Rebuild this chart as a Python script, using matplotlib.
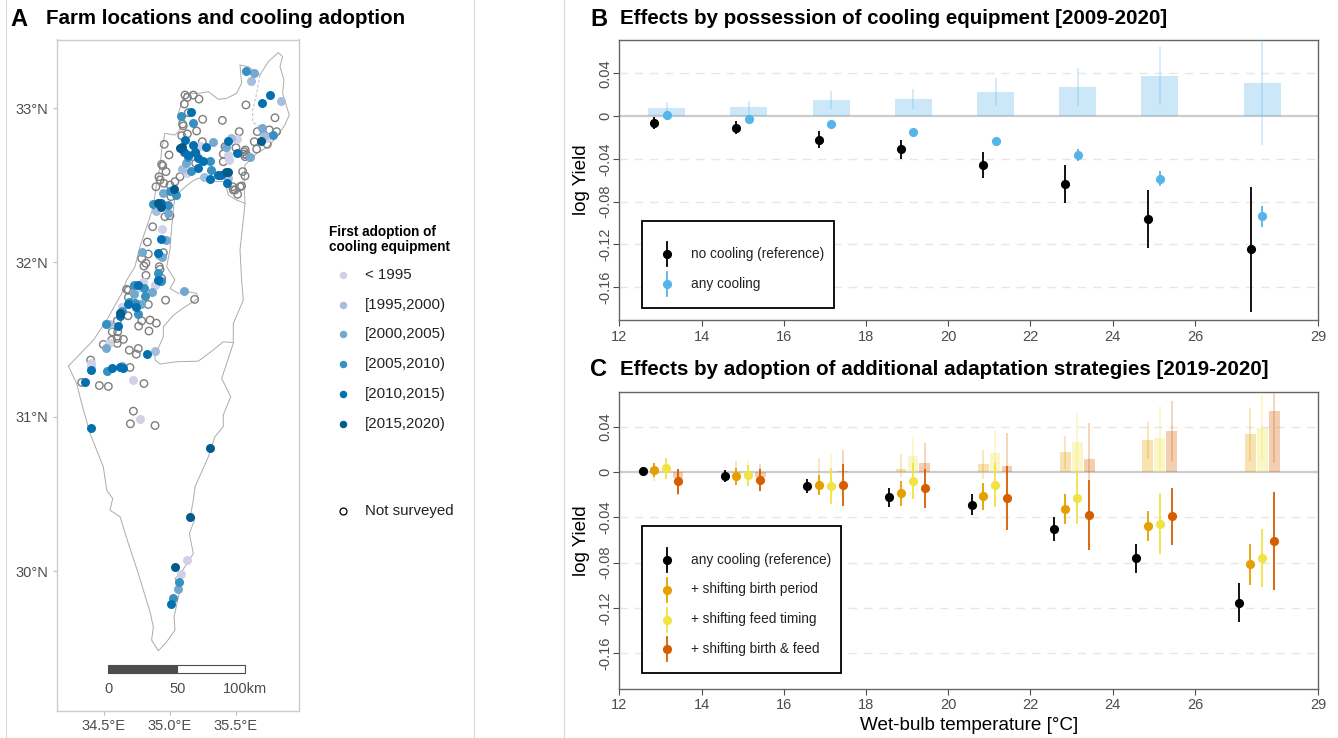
import numpy as np
import matplotlib
matplotlib.use('Agg')
import matplotlib.pyplot as plt
from matplotlib.lines import Line2D
from matplotlib.patches import Rectangle

plt.rcParams['font.family'] = ['Liberation Sans', 'DejaVu Sans']

W, H = 1338, 738

# map outline, lon/lat
outline_lon = [35.116,35.217,35.293,35.369,35.432,35.507,35.545,35.533,35.596,35.684,35.747,35.823,35.856,35.836,35.866,35.856,35.906,35.873,35.810,35.747,35.659,35.608,35.571,35.563,35.571,35.533,35.545,35.558,35.482,35.482,35.394,35.462,35.406,35.406,35.343,35.293,35.192,35.179,35.156,35.192,35.149,35.179,35.091,35.040,35.078,35.033,35.040,34.977,34.914,34.863,34.876,34.851,34.762,34.687,34.624,34.548,34.568,34.523,34.497,34.396,34.333,34.295,34.232,34.422,34.523,34.636,34.674,34.737,34.775,34.826,34.876,34.901,34.927,34.939,34.964,35.040,35.078,35.065,35.116]
outline_lat = [33.095,33.095,33.106,33.056,33.063,33.095,33.160,33.279,33.268,33.214,33.300,33.359,33.333,33.268,33.182,33.095,32.955,32.890,32.814,32.750,32.706,32.663,32.631,32.512,32.382,32.080,31.885,31.755,31.604,31.475,31.248,31.129,31.010,30.935,30.870,30.740,30.546,30.459,30.351,30.340,30.243,30.113,29.995,29.951,29.876,29.703,29.617,29.541,29.483,29.552,29.638,29.735,29.984,30.178,30.351,30.394,30.470,30.524,30.675,30.892,31.086,31.215,31.328,31.496,31.626,31.799,31.885,31.972,32.102,32.231,32.361,32.512,32.620,32.728,32.836,32.825,32.858,32.966,33.095]
inner_lon = [35.571,35.507,35.444,35.419,35.356,35.280,35.217,35.166,35.091,35.040,35.028,35.015,35.002,34.977,35.040,35.002,35.065,35.141,35.204,35.217,35.116,35.028,34.952,34.952,34.889,34.889,34.927,35.053,35.217,35.280,35.406,35.482]
inner_lat = [32.382,32.404,32.436,32.523,32.523,32.545,32.545,32.523,32.469,32.426,32.339,32.231,32.080,31.972,31.886,31.831,31.799,31.809,31.799,31.766,31.712,31.658,31.583,31.518,31.399,31.367,31.341,31.356,31.360,31.399,31.485,31.481]
golan_lon = [35.684,35.659,35.629,35.629,35.659,35.709]
golan_lat = [33.214,33.095,32.987,32.912,32.890,32.858]

# farms not surveyed
open_lon = [35.116,35.134,35.179,35.222,35.111,35.141,35.250,35.399,35.578,35.798,35.098,35.103,35.204,35.134,35.527,35.664,35.755,35.810,35.641,35.740,35.659,35.247,35.502,35.419,34.959,34.995,34.939,34.947,34.972,34.919,34.927,35.040,35.078,34.896,34.957,35.002,35.197,35.199,35.406,35.406,35.565,35.583,35.553,35.571,35.477,35.495,35.545,35.515,35.010,34.871,35.002,34.964,34.831,34.838,34.952,34.788,34.820,34.805,34.921,34.927,34.820,34.939,34.674,35.573,35.563,35.091,35.571,35.482,35.533,
            34.687,34.687,34.838,34.969,35.189,34.684,34.603,34.788,34.851,34.899,34.765,34.843,34.565,34.606,34.603,34.649,34.560,34.603,34.497,34.694,34.762,34.747,34.401,34.699,34.333,34.467,34.535,34.805,34.725,34.702,34.889]
open_lat = [33.084,33.069,33.084,33.058,33.026,32.970,32.927,32.920,33.020,32.937,32.896,32.884,32.851,32.832,32.847,32.847,32.858,32.847,32.782,32.765,32.734,32.782,32.743,32.750,32.765,32.696,32.635,32.626,32.588,32.555,32.534,32.523,32.555,32.490,32.512,32.501,32.642,32.706,32.702,32.652,32.717,32.696,32.588,32.560,32.490,32.469,32.495,32.441,32.426,32.231,32.302,32.296,32.132,32.054,32.063,32.026,31.994,31.976,31.972,31.955,31.916,31.896,31.825,32.728,32.702,32.821,32.685,32.469,32.490,
            31.820,31.773,31.727,31.755,31.760,31.654,31.621,31.621,31.626,31.606,31.587,31.555,31.550,31.550,31.507,31.501,31.496,31.475,31.468,31.431,31.442,31.405,31.367,31.319,31.222,31.202,31.196,31.215,31.036,30.954,30.943]

# farms by first adoption period
c0_lon = [35.507,35.230,35.439,35.449,35.129,34.939,35.740,34.800,34.889,34.762,34.889,34.636,34.401,34.540,34.401,34.719,34.772,35.129,35.088]
c0_lat = [32.797,32.754,32.696,32.663,32.581,32.214,32.804,31.875,31.853,31.831,31.855,31.712,31.345,31.475,31.328,31.235,30.984,30.074,29.979]
c1_lon = [35.618,35.841,35.467,35.093,34.894,35.260,35.714,35.444,34.540,34.889]
c1_lat = [33.175,33.043,32.808,32.607,32.333,32.551,32.819,32.544,31.598,31.427]
c2_lon = [35.639,35.702,35.331,35.424,35.608,34.952,35.121,34.788,34.972,34.919,34.939,34.990,34.868,35.111,34.783,34.515,34.636,34.730,35.060]
c2_lat = [33.229,32.868,32.780,32.750,32.685,32.452,32.646,32.067,32.145,32.048,32.032,32.318,31.809,31.814,31.729,31.447,31.328,31.792,29.884]
c3_lon = [35.575,35.083,35.174,34.990,34.873,35.048,35.002,35.780,35.305,35.310,35.161,35.141,34.730,34.808,34.813,34.762,34.641,34.737,34.692,34.528,34.934,34.517,35.068,35.022,34.909,34.927]
c3_lat = [33.242,32.948,32.905,32.372,32.378,32.436,32.464,32.825,32.657,32.598,32.592,32.685,31.853,31.837,31.783,31.665,31.686,31.734,31.745,31.297,31.881,31.600,29.930,29.824,31.933,31.881]
c4_lon = [35.760,35.699,35.161,35.116,35.179,35.278,35.507,35.439,35.111,35.141,35.192,35.217,35.255,35.212,35.305,35.369,35.432,34.932,34.934,34.909,34.914,34.762,34.687,34.745,34.624,34.611,34.826,34.560,34.624,34.649,34.404,34.358,34.406,35.012,35.389]
c4_lat = [33.087,33.030,32.976,32.795,32.760,32.745,32.706,32.788,32.717,32.696,32.717,32.674,32.659,32.611,32.542,32.564,32.516,32.387,32.151,32.058,31.886,31.853,31.729,31.708,31.652,31.587,31.405,31.317,31.319,31.317,31.302,31.228,30.926,29.785,32.566]
c5_lon = [35.694,35.096,35.078,35.424,35.444,35.035,34.914,34.934,34.624,35.303,35.156,35.038]
c5_lat = [32.786,32.745,32.741,32.588,32.588,32.473,32.382,32.361,31.669,30.799,30.351,30.029]

adopt_labels = ['< 1995', '[1995,2000)', '[2000,2005)', '[2005,2010)', '[2010,2015)', '[2015,2020)']
adopt_colors = ['#D0D1E6', '#A6BDDB', '#74A9CF', '#3690C0', '#0570B0', '#045A8D']

# panel B
b_temp = [13, 15, 17, 19, 21, 23, 25, 27.5]
b_none = [-0.0069, -0.0109, -0.0221, -0.0312, -0.0455, -0.0636, -0.0960, -0.1246]
b_none_lo = [-0.0121, -0.0171, -0.0302, -0.0402, -0.0583, -0.0810, -0.1230, -0.1829]
b_none_hi = [-0.0012, -0.0050, -0.0140, -0.0224, -0.0333, -0.0461, -0.0692, -0.0667]
b_any = [0.0006, -0.0028, -0.0072, -0.0153, -0.0234, -0.0364, -0.0586, -0.0935]
b_any_lo = [-0.0005, -0.0040, -0.0085, -0.0165, -0.0250, -0.0417, -0.0651, -0.1034]
b_any_hi = [0.0018, -0.0016, -0.0060, -0.0140, -0.0218, -0.0312, -0.0517, -0.0841]
b_diff = [0.0072, 0.0081, 0.0150, 0.0159, 0.0224, 0.0271, 0.0374, 0.0312]
b_diff_lo = [0.0015, 0.0010, 0.0065, 0.0065, 0.0093, 0.0093, 0.0103, -0.0271]
b_diff_hi = [0.0131, 0.0143, 0.0234, 0.0255, 0.0352, 0.0445, 0.0648, 0.0800]

# panel C
c_ref = [0.0015, -0.0030, -0.0121, -0.0221, -0.0286, -0.0499, -0.0761, -0.1153]
c_ref_lo = [0.0000, -0.0083, -0.0186, -0.0304, -0.0381, -0.0611, -0.0888, -0.1327]
c_ref_hi = [0.0030, 0.0020, -0.0056, -0.0142, -0.0195, -0.0392, -0.0631, -0.0982]
c_birth = [0.0024, -0.0035, -0.0115, -0.0186, -0.0212, -0.0322, -0.0475, -0.0814]
c_birth_lo = [-0.0038, -0.0115, -0.0201, -0.0298, -0.0333, -0.0454, -0.0608, -0.0994]
c_birth_hi = [0.0086, 0.0038, -0.0027, -0.0077, -0.0094, -0.0192, -0.0345, -0.0637]
c_feed = [0.0041, -0.0027, -0.0124, -0.0074, -0.0112, -0.0227, -0.0454, -0.0758]
c_feed_lo = [-0.0056, -0.0124, -0.0280, -0.0236, -0.0304, -0.0457, -0.0720, -0.1015]
c_feed_hi = [0.0130, 0.0068, 0.0035, 0.0086, 0.0083, 0.0000, -0.0186, -0.0501]
c_both = [-0.0077, -0.0068, -0.0109, -0.0142, -0.0227, -0.0378, -0.0389, -0.0608]
c_both_lo = [-0.0189, -0.0168, -0.0295, -0.0316, -0.0513, -0.0687, -0.0640, -0.1044]
c_both_hi = [0.0029, 0.0029, 0.0074, 0.0029, 0.0056, -0.0068, -0.0142, -0.0171]

d_birth = [0.0005, -0.0005, 0.0005, 0.0030, 0.0071, 0.0177, 0.0283, 0.0336]
d_birth_lo = [-0.0074, -0.0070, -0.0070, -0.0040, -0.0056, 0.0030, 0.0118, 0.0100]
d_birth_hi = [0.0086, 0.0100, 0.0124, 0.0162, 0.0200, 0.0324, 0.0442, 0.0572]
d_feed = [0.0010, 0.0005, 0.0000, 0.0145, 0.0174, 0.0271, 0.0304, 0.0395]
d_feed_lo = [-0.0060, -0.0100, -0.0120, 0.0000, 0.0080, 0.0000, 0.0015, 0.0103]
d_feed_hi = [0.0120, 0.0109, 0.0162, 0.0316, 0.0372, 0.0513, 0.0590, 0.0687]
d_both = [-0.0050, -0.0040, 0.0010, 0.0080, 0.0056, 0.0121, 0.0369, 0.0546]
d_both_lo = [-0.0200, -0.0068, 0.0000, 0.0000, 0.0050, -0.0068, 0.0103, 0.0083]
d_both_hi = [0.0020, 0.0074, 0.0200, 0.0260, 0.0348, 0.0440, 0.0631, 0.0800]

BLUE = '#56B4E9'
ORANGE = '#E69F00'
YELLOW = '#F0E442'
RED = '#D55E00'
TICK = '#4D4D4D'


def fx(x):
    return x / W


def fy(y):
    return 1 - y / H


def add_axes(left, top, right, bottom):
    return fig.add_axes([fx(left), fy(bottom), (right - left) / W, (bottom - top) / H])


fig = plt.figure(figsize=(W / 100, H / 100), dpi=100)

for x in [6, 474, 564]:
    fig.add_artist(Line2D([fx(x), fx(x)], [0, 1], color='#D9D9D9', lw=0.8, transform=fig.transFigure))

# ---- panel A, map
ax = add_axes(57, 39.5, 299, 711)
ax.set_xlim(34.146, 35.98)
ax.set_ylim(29.093, 33.444)
ax.plot(outline_lon, outline_lat, color='#ABABAB', lw=0.7, zorder=1)
ax.plot(inner_lon, inner_lat, color='#ABABAB', lw=0.7, zorder=1)
ax.plot(golan_lon, golan_lat, color='#BDBDBD', lw=0.7, ls=(0, (3, 2)), zorder=1)
ax.scatter(open_lon, open_lat, s=29, facecolors='none', edgecolors='#7F7F7F', linewidths=1.0, zorder=2)
groups = [(c0_lon, c0_lat), (c1_lon, c1_lat), (c2_lon, c2_lat), (c3_lon, c3_lat), (c4_lon, c4_lat), (c5_lon, c5_lat)]
for (lon, lat), col in zip(groups, adopt_colors):
    ax.scatter(lon, lat, s=42, color=col, linewidths=0, zorder=3)
ax.set_xticks([34.5, 35.0, 35.5])
ax.set_xticklabels(['34.5°E', '35.0°E', '35.5°E'])
ax.set_yticks([30, 31, 32, 33])
ax.set_yticklabels(['30°N', '31°N', '32°N', '33°N'])
ax.tick_params(labelsize=10.5, labelcolor=TICK, color='#BDBDBD', length=3, width=0.8, pad=3)
for s in ax.spines.values():
    s.set_color('#CCCCCC')
    s.set_linewidth(1)

# scale bar
ax.add_patch(Rectangle((34.535, 29.337), 0.523, 0.052, fc='#4D4D4D', ec='#4D4D4D', lw=0.8))
ax.add_patch(Rectangle((35.058, 29.337), 0.515, 0.052, fc='white', ec='#4D4D4D', lw=0.8))
ax.text(34.535, 29.235, '0', ha='center', va='center', fontsize=10.5, color=TICK)
ax.text(35.058, 29.235, '50', ha='center', va='center', fontsize=10.5, color=TICK)
ax.text(35.573, 29.235, '100km', ha='center', va='center', fontsize=10.5, color=TICK)

# map legend
fig.text(fx(329), fy(232), 'First adoption of', fontsize=9.85, fontweight='bold', ha='left', va='center')
fig.text(fx(329), fy(247), 'cooling equipment', fontsize=9.85, fontweight='bold', ha='left', va='center')
legend_ys = [275, 304.5, 334, 364, 394, 424]
for y, lab, col in zip(legend_ys, adopt_labels, adopt_colors):
    fig.add_artist(Line2D([fx(343)], [fy(y)], marker='o', ms=5.4, mfc=col, mec='none', ls='none', transform=fig.transFigure))
    fig.text(fx(365), fy(y), lab, fontsize=10.8, ha='left', va='center', color='#222222')
fig.add_artist(Line2D([fx(343)], [fy(511)], marker='o', ms=5, mfc='none', mec='black', mew=0.9, ls='none', transform=fig.transFigure))
fig.text(fx(365), fy(511), 'Not surveyed', fontsize=10.8, ha='left', va='center', color='#222222')


def style_panel(a, ylim):
    a.set_xlim(12, 29)
    a.set_ylim(*ylim)
    a.set_xticks([12, 14, 16, 18, 20, 22, 24, 26, 29])
    a.set_yticks([-0.16, -0.12, -0.08, -0.04, 0, 0.04])
    a.set_yticklabels(['-0.16', '-0.12', '-0.08', '-0.04', '0', '0.04'], rotation=90, va='center')
    a.tick_params(labelsize=10.5, labelcolor=TICK, color=TICK, length=4, width=0.8, pad=3)
    a.tick_params(axis='y', pad=1)
    for v in [-0.16, -0.12, -0.08, -0.04, 0.04]:
        a.axhline(v, color='#E6E6E6', lw=1, ls=(0, (6, 5)), zorder=0)
    a.axhline(0, color='#CCCCCC', lw=1.6, zorder=1)
    for s in a.spines.values():
        s.set_color('#666666')
        s.set_linewidth(1)
    a.set_ylabel('log Yield', fontsize=13.6, va='center')
    a.yaxis.set_label_coords(-0.0534, 0.5)


def points(a, x, y, lo, hi, col):
    a.vlines(x, lo, hi, color=col, lw=1.3, zorder=4)
    a.plot(x, y, 'o', color=col, ms=6.6, mec='none', zorder=5)


def bars(a, x, y, lo, hi, col, width):
    a.bar(x, y, width=width, color=col, alpha=0.3, lw=0, zorder=2)
    a.vlines(x, lo, hi, color=col, lw=1.2, alpha=0.3, zorder=3)


def legend_box(left, top, right, bottom, ys, labels, cols):
    fig.add_artist(Rectangle((fx(left), fy(bottom)), (right - left) / W, (bottom - top) / H, fc='white', ec='black',
                             lw=1.3, transform=fig.transFigure, zorder=5))
    for y, lab, col in zip(ys, labels, cols):
        fig.add_artist(Line2D([fx(666.5), fx(666.5)], [fy(y - 12), fy(y + 12)], color=col, lw=1.3,
                              transform=fig.transFigure, zorder=6))
        fig.add_artist(Line2D([fx(666.5)], [fy(y)], marker='o', ms=6.6, mfc=col, mec='none', ls='none',
                              transform=fig.transFigure, zorder=6))
        fig.text(fx(691), fy(y), lab, fontsize=9.8, ha='left', va='center', color='#222222', zorder=6)


# ---- panel B
ax_b = add_axes(619.3, 39.5, 1318.3, 320)
style_panel(ax_b, (-0.1907, 0.0715))
temp = np.array(b_temp)
bars(ax_b, temp + np.array([.15] * 7 + [.14]), b_diff, b_diff_lo, b_diff_hi, BLUE, 0.9)
points(ax_b, temp + np.array([-.15] * 7 + [-.14]), b_none, b_none_lo, b_none_hi, 'black')
points(ax_b, temp + np.array([.15] * 7 + [.14]), b_any, b_any_lo, b_any_hi, BLUE)
legend_box(642, 220.7, 834, 308, [254, 284], ['no cooling (reference)', 'any cooling'], ['black', BLUE])

# ---- panel C
ax_c = add_axes(619.3, 391.7, 1318.3, 688.7)
style_panel(ax_c, (-0.1915, 0.0713))
offs = [-0.43, -0.15, 0.14, 0.43]
bars(ax_c, temp + offs[1], d_birth, d_birth_lo, d_birth_hi, ORANGE, 0.26)
bars(ax_c, temp + offs[2], d_feed, d_feed_lo, d_feed_hi, YELLOW, 0.26)
bars(ax_c, temp + offs[3], d_both, d_both_lo, d_both_hi, RED, 0.26)
points(ax_c, temp + offs[0], c_ref, c_ref_lo, c_ref_hi, 'black')
points(ax_c, temp + offs[1], c_birth, c_birth_lo, c_birth_hi, ORANGE)
points(ax_c, temp + offs[2], c_feed, c_feed_lo, c_feed_hi, YELLOW)
points(ax_c, temp + offs[3], c_both, c_both_lo, c_both_hi, RED)
ax_c.set_xlabel('Wet-bulb temperature [°C]', fontsize=13.6, labelpad=3)
legend_box(642.3, 526, 840.7, 673.3, [560, 589.5, 619.5, 649],
           ['any cooling (reference)', '+ shifting birth period', '+ shifting feed timing', '+ shifting birth & feed'],
           ['black', ORANGE, YELLOW, RED])

# titles
for x, y, letter, title, tx in [(10, 19, 'A', 'Farm locations and cooling adoption', 46),
                                (590, 19, 'B', 'Effects by possession of cooling equipment [2009-2020]', 620),
                                (590, 370, 'C', 'Effects by adoption of additional adaptation strategies [2019-2020]', 620)]:
    fig.text(fx(x), fy(y), letter, fontsize=17, fontweight='bold', ha='left', va='center')
    fig.text(fx(tx), fy(y), title, fontsize=14.75, fontweight='bold', ha='left', va='center')

fig.savefig('out.png', dpi=100)
